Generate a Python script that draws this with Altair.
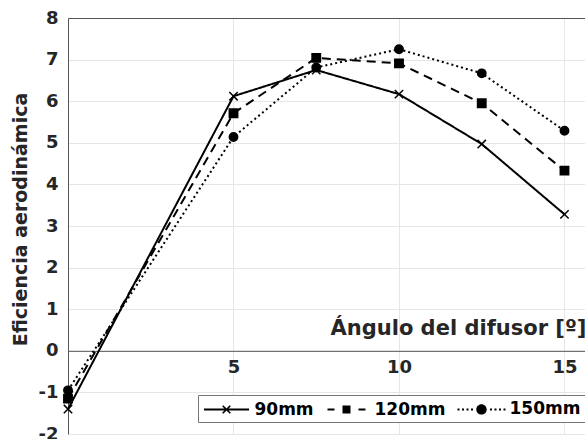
import altair as alt
import pandas as pd

angles = [0, 5, 7.5, 10, 12.5, 15]
eff_90 = [-1.40, 6.12, 6.75, 6.17, 4.97, 3.28]
eff_120 = [-1.15, 5.71, 7.04, 6.91, 5.95, 4.33]
eff_150 = [-0.95, 5.14, 6.81, 7.25, 6.67, 5.29]
series_names = ["90mm", "120mm", "150mm"]
y_ticks = [-2, -1, 0, 1, 2, 3, 4, 5, 6, 7, 8]
x_ticks = [5, 10, 15]
x_grid = [0, 5, 10, 15]

rows = []
for name, vals in zip(series_names, [eff_90, eff_120, eff_150]):
    for a, v in zip(angles, vals):
        rows.append({"angle": a, "eff": v, "serie": name})
df = pd.DataFrame(rows)

TXT = "#262626"
AX = "#555555"
GRID = "#e6e6e6"
FONT = "DejaVu Sans"

W, H = 517, 416
x_dom = [0, 15.62]
y_dom = [-2, 8]
zero_off = H * (y_dom[1] - 0) / (y_dom[1] - y_dom[0]) - H

dash_range = [[1, 0], [9, 6], [2, 3]]
marker_shapes = ["M-1,-1L1,1M-1,1L1,-1", "square", "circle"]

# ---- legend glyphs (line sample + marker) as filled SVG paths, unit = 9 px ----
U = 9.0
def rect(x0, x1, h):
    x0, x1, h = x0 / U, x1 / U, h / U
    return f"M{x0:.3f},{-h:.3f}H{x1:.3f}V{h:.3f}H{x0:.3f}Z"

def xmark(a, t):
    a, d = a / U, t / U / 2 ** 0.5
    p1 = f"M{-a + d:.3f},{-a - d:.3f}L{a + d:.3f},{a - d:.3f}L{a - d:.3f},{a + d:.3f}L{-a - d:.3f},{-a + d:.3f}Z"
    p2 = f"M{-a - d:.3f},{a - d:.3f}L{a - d:.3f},{-a - d:.3f}L{a + d:.3f},{-a + d:.3f}L{-a + d:.3f},{a + d:.3f}Z"
    return p1 + p2

def square(a):
    a = a / U
    return f"M{-a:.3f},{-a:.3f}H{a:.3f}V{a:.3f}H{-a:.3f}Z"

def circle(r):
    r = r / U
    return f"M{r:.3f},0A{r:.3f},{r:.3f},0,1,1,{-r:.3f},0A{r:.3f},{r:.3f},0,1,1,{r:.3f},0Z"

leg_90 = rect(-22.5, 22.5, 1.0) + xmark(3.8, 0.8)
leg_120 = rect(-19, -12, 1.0) + rect(12, 19, 1.0) + square(4.0)
leg_150 = "".join(rect(c - 1, c + 1, 1.0) for c in [-23, -18.5, -14, -9.5, 9.5, 14, 18.5, 23]) + circle(5.2)
legend_shapes = [leg_90, leg_120, leg_150]

xscale = alt.Scale(domain=x_dom, nice=False, zero=False)
yscale = alt.Scale(domain=y_dom, nice=False, zero=False)

x_bottom = alt.X(
    "angle:Q", scale=xscale,
    axis=alt.Axis(
        orient="bottom", offset=zero_off, values=x_ticks, grid=False,
        ticks=False, tickSize=0, labelPadding=8, labelFontSize=18,
        labelFontWeight="bold", labelColor=TXT, labelFont=FONT,
        domainColor=AX, domainWidth=1,
        title="Ángulo del difusor [º]", titleFont=FONT, titleFontSize=21,
        titleFontWeight="bold", titleColor=TXT, titleX=262, titleY=-16,
        titleAlign="left", titleBaseline="alphabetic",
    ),
)
x_top = alt.X(
    "angle:Q", scale=xscale,
    axis=alt.Axis(
        orient="top", values=x_grid, grid=True, gridColor=GRID, labels=False,
        ticks=False, domainColor=AX, domainWidth=1, title=None,
    ),
)
y_axis = alt.Axis(
    values=y_ticks, grid=True, gridColor=GRID, ticks=False, labelPadding=10,
    labelFontSize=18, labelFontWeight="bold", labelColor=TXT, labelFont=FONT,
    labelExpr="replace(datum.label, '\u2212', '-')",
    domainColor=AX, domainWidth=1,
    title="Eficiencia aerodinámica", titleFont=FONT, titleFontSize=19,
    titleFontWeight="bold", titleColor=TXT, titlePadding=8, titleY=201,
)
y_left = alt.Y("eff:Q", scale=yscale, axis=y_axis)

lines = alt.Chart(df).mark_line(color="black", strokeWidth=2).encode(
    x=x_bottom,
    y=y_left,
    strokeDash=alt.StrokeDash(
        "serie:N", scale=alt.Scale(domain=series_names, range=dash_range), legend=None
    ),
    detail="serie:N",
)

points = alt.Chart(df).mark_point(
    filled=True, fill="black", stroke="black", strokeWidth=1.5, size=70, opacity=1
).encode(
    x=x_top,
    y=y_left,
    shape=alt.Shape(
        "serie:N", scale=alt.Scale(domain=series_names, range=marker_shapes), legend=None
    ),
)

legend_layer = alt.Chart(df).transform_filter("false").mark_point(
    filled=True, fill="black", size=324, opacity=1
).encode(
    shape=alt.Shape(
        "serie:N", scale=alt.Scale(domain=series_names, range=legend_shapes),
        legend=alt.Legend(
            title=None, orient="none", legendX=130, legendY=377,
            direction="horizontal", symbolSize=324, labelFontSize=17,
            labelFont=FONT, labelFontWeight="bold", labelColor="black",
            strokeColor="#777777", fillColor="white", padding=4,
            columnPadding=8, symbolOffset=14.5, labelOffset=18,
            symbolFillColor="black", symbolOpacity=1,
        ),
    ),
)

chart = (
    alt.layer(lines, points, legend_layer)
    .resolve_scale(shape="independent", strokeDash="independent")
    .properties(
        width=W, height=H,
        autosize=alt.AutoSizeParams(type="none"),
        padding={"left": 68, "top": 18, "right": 0, "bottom": 5},
        background="white",
    )
    .configure_view(stroke=None)
)

chart.save("out.html", embed_options={"renderer": "svg", "actions": False})
